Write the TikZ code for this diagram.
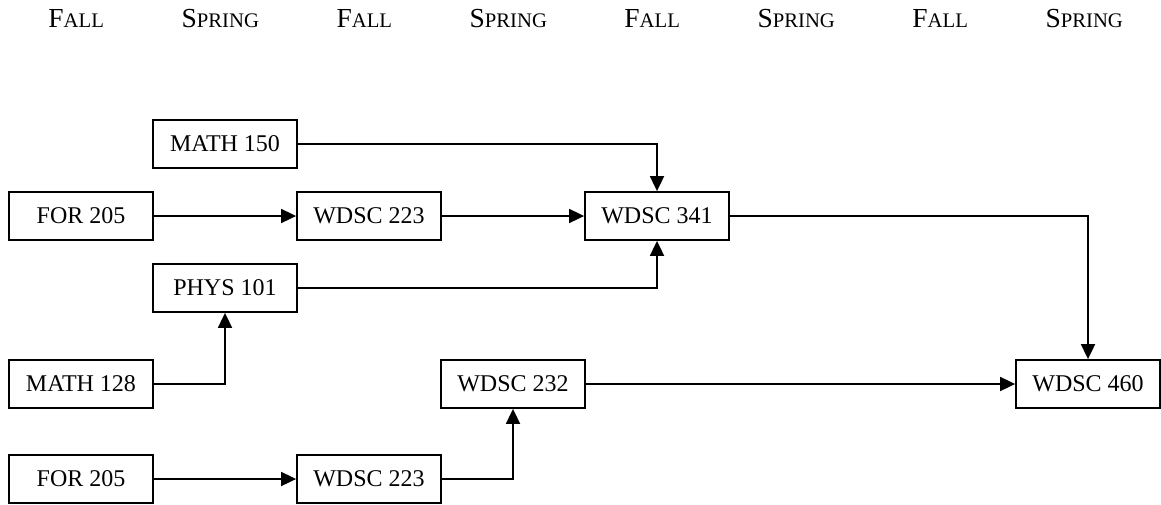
\documentclass[tikz,border=0pt]{standalone}
\usepackage{fontspec}
\setmainfont{Liberation Serif}
\usetikzlibrary{arrows.meta}
\newcommand\fakesc[2]{{\fontsize{27.5}{30}\selectfont #1{\fontsize{20.7}{24}\selectfont #2}}}
\begin{document}
\begin{tikzpicture}[x=1pt,y=-1pt,
  course/.style={draw,line width=1.8pt,minimum width=144pt,minimum height=48pt,inner sep=0pt,
    font=\fontsize{24}{28}\selectfont},
  term/.style={anchor=base,inner sep=0pt},
  arr/.style={line width=1.8pt,-{Triangle[length=15pt,width=14pt]}}]
\useasboundingbox (0,0) rectangle (1161,504);
% header
\node[term] (h1) at (76.2,27.3) {\fakesc{F}{ALL}};
\node[term] (h2) at (220.3,27.3) {\fakesc{S}{PRING}};
\node[term] (h3) at (364.3,27.3) {\fakesc{F}{ALL}};
\node[term] (h4) at (508.3,27.3) {\fakesc{S}{PRING}};
\node[term] (h5) at (652.2,27.3) {\fakesc{F}{ALL}};
\node[term] (h6) at (796.2,27.3) {\fakesc{S}{PRING}};
\node[term] (h7) at (940.2,27.3) {\fakesc{F}{ALL}};
\node[term] (h8) at (1084.2,27.3) {\fakesc{S}{PRING}};
% courses
\node[course] (math150) at (225,144) {MATH 150};
\node[course] (for205a) at (81,216) {FOR 205};
\node[course] (wdsc223a) at (369,216) {WDSC 223};
\node[course] (wdsc341) at (657,216) {WDSC 341};
\node[course] (phys101) at (225,288) {PHYS 101};
\node[course] (math128) at (81,384) {MATH 128};
\node[course] (wdsc232) at (513,384) {WDSC 232};
\node[course] (wdsc460) at (1088,384) {WDSC 460};
\node[course] (for205b) at (81,479) {FOR 205};
\node[course] (wdsc223b) at (369,479) {WDSC 223};
% connectors
\draw[arr] (for205a) -- (wdsc223a);
\draw[arr] (wdsc223a) -- (wdsc341);
\draw[arr] (math150.east) -| (wdsc341.north);
\draw[arr] (phys101.east) -| (wdsc341.south);
\draw[arr] (math128.east) -| (phys101.south);
\draw[arr] (wdsc341.east) -| (wdsc460.north);
\draw[arr] (wdsc232) -- (wdsc460);
\draw[arr] (for205b) -- (wdsc223b);
\draw[arr] (wdsc223b.east) -| (wdsc232.south);
\end{tikzpicture}
\end{document}
